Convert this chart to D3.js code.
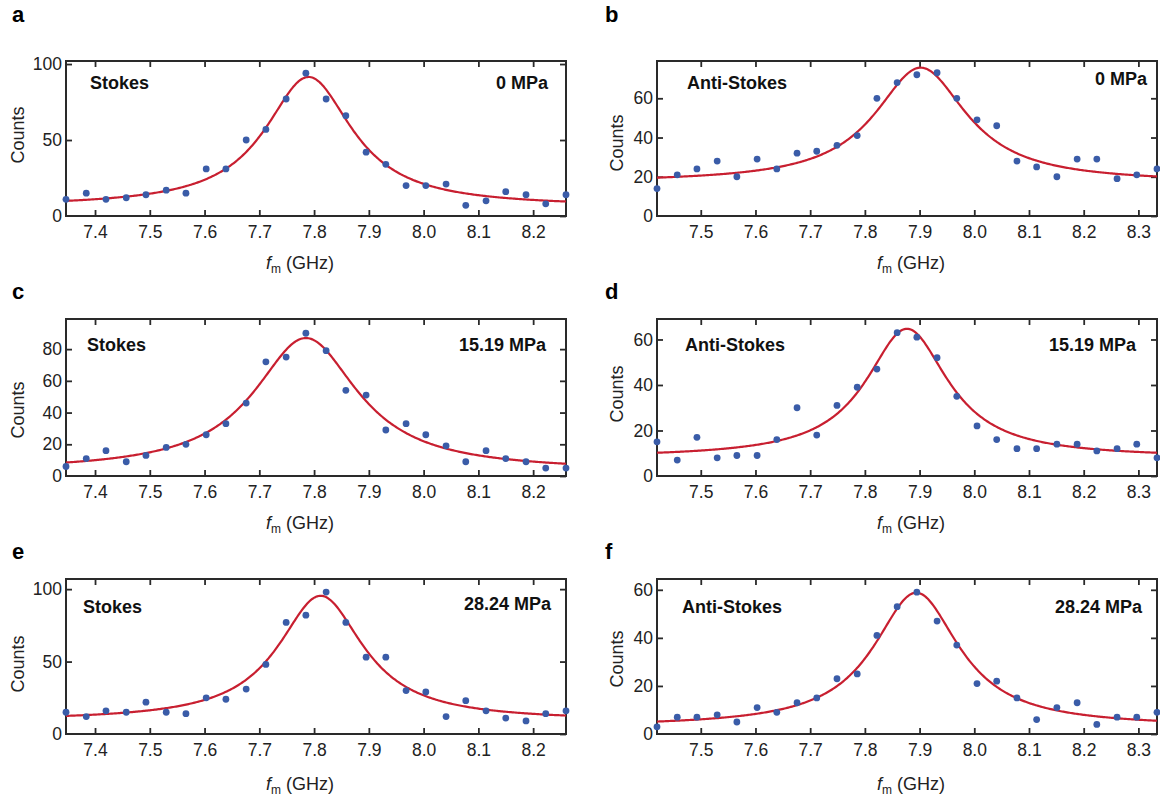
<!DOCTYPE html>
<html>
<head>
<meta charset="utf-8">
<script src="https://cdn.jsdelivr.net/npm/d3@7"></script>
<style>
  body { margin: 0; background: #fff; }
  svg { font-family: "Liberation Sans", Arial, Helvetica, sans-serif; }
</style>
</head>
<body>
<div id="fig"></div>
<script>
// frequency grid of the two columns (GHz)
const freqLeft = [7.347, 7.384, 7.420, 7.457, 7.493, 7.530, 7.566, 7.603, 7.639, 7.676, 7.712, 7.749, 7.785,
  7.822, 7.858, 7.895, 7.931, 7.968, 8.004, 8.041, 8.077, 8.114, 8.150, 8.187, 8.223, 8.260];
const freqRight = [7.420, 7.457, 7.493, 7.530, 7.566, 7.603, 7.639, 7.676, 7.712, 7.749, 7.786, 7.822, 7.859,
  7.895, 7.932, 7.968, 8.005, 8.041, 8.078, 8.114, 8.151, 8.188, 8.224, 8.261, 8.297, 8.334];

// counts per panel
const countsA = [11, 15, 11, 12, 14, 17, 15, 31, 31, 50, 57, 77, 94, 77, 66, 42, 34, 20, 20, 21, 7, 10, 16, 14, 8, 14];
const countsB = [14, 21, 24, 28, 20, 29, 24, 32, 33, 36, 41, 60, 68, 72, 73, 60, 49, 46, 28, 25, 20, 29, 29, 19, 21, 24];
const countsC = [6, 11, 16, 9, 13, 18, 20, 26, 33, 46, 72, 75, 90, 79, 54, 51, 29, 33, 26, 19, 9, 16, 11, 9, 5, 5];
const countsD = [15, 7, 17, 8, 9, 9, 16, 30, 18, 31, 39, 47, 63, 61, 52, 35, 22, 16, 12, 12, 14, 14, 11, 12, 14, 8];
const countsE = [15, 12, 16, 15, 22, 15, 14, 25, 24, 31, 48, 77, 82, 98, 77, 53, 53, 30, 29, 12, 23, 16, 11, 9, 14, 16];
const countsF = [3, 7, 7, 8, 5, 11, 9, 13, 15, 23, 25, 41, 53, 59, 47, 37, 21, 22, 15, 6, 11, 13, 4, 7, 7, 9];

// Lorentzian fits: [centre (GHz), half width (GHz), amplitude, offset]
const fitA = [7.790, 0.0975, 85.5, 6];
const fitB = [7.902, 0.103, 58.6, 17];
const fitC = [7.785, 0.116, 84, 3];
const fitD = [7.877, 0.092, 56.7, 8];
const fitE = [7.812, 0.0953, 86.4, 9];
const fitF = [7.894, 0.0957, 55.8, 3];

const yMax = [102, 79, 99, 69, 107, 64.5];
const yTicksA = [0, 50, 100];
const yTicksB = [0, 20, 40, 60];
const yTicksC = [0, 20, 40, 60, 80];
const yTicksD = [0, 20, 40, 60];
const yTicksE = [0, 50, 100];
const yTicksF = [0, 20, 40, 60];
const xTicksLeft = [7.4, 7.5, 7.6, 7.7, 7.8, 7.9, 8.0, 8.1, 8.2];
const xTicksRight = [7.5, 7.6, 7.7, 7.8, 7.9, 8.0, 8.1, 8.2, 8.3];

const letters = ["a", "b", "c", "d", "e", "f"];
const lineNames = ["Stokes", "Anti-Stokes", "Stokes", "Anti-Stokes", "Stokes", "Anti-Stokes"];
const pressures = ["0 MPa", "0 MPa", "15.19 MPa", "15.19 MPa", "28.24 MPa", "28.24 MPa"];

// layout
const cols = [
  { left: 66, right: 566, letterX: 12, countsX: 24, titleX: 300 },
  { left: 657, right: 1157, letterX: 605, countsX: 623, titleX: 911 }
];
const rows = [
  { top: 61, bottom: 216, letterY: 22, titleY: 269 },
  { top: 319, bottom: 476, letterY: 299, titleY: 529 },
  { top: 579, bottom: 734, letterY: 559, titleY: 790 }
];
const labelPos = [
  { lx: 90, ly: 89, rx: 548, ry: 89, cy: 135 },
  { lx: 687, ly: 89, rx: 1147, ry: 85, cy: 143 },
  { lx: 87, ly: 351, rx: 546, ry: 351, cy: 410 },
  { lx: 685, ly: 351, rx: 1136, ry: 351, cy: 394 },
  { lx: 83, ly: 613, rx: 551, ry: 610, cy: 664 },
  { lx: 682, ly: 613, rx: 1142, ry: 613, cy: 659 }
];

const counts = [countsA, countsB, countsC, countsD, countsE, countsF];
const fits = [fitA, fitB, fitC, fitD, fitE, fitF];
const yTicks = [yTicksA, yTicksB, yTicksC, yTicksD, yTicksE, yTicksF];

const blue = "#3a5ca8", red = "#c81f30", ink = "#2a2a2a";

const svg = d3.select("#fig").append("svg")
  .attr("width", 1160)
  .attr("height", 798);

function lorentz(p, f) {
  const d = (f - p[0]) / p[1];
  return p[3] + p[2] / (1 + d * d);
}

counts.forEach((vals, i) => {
  const col = cols[i % 2], row = rows[Math.floor(i / 2)], lp = labelPos[i];
  const freqs = i % 2 ? freqRight : freqLeft;
  const xTicks = i % 2 ? xTicksRight : xTicksLeft;

  const x = d3.scaleLinear()
    .domain([freqs[0], freqs[freqs.length - 1]])
    .range([col.left, col.right]);
  const y = d3.scaleLinear()
    .domain([0, yMax[i]])
    .range([row.bottom, row.top]);

  const g = svg.append("g");

  // axes, ticks pointing inward
  const bottom = g.append("g")
    .attr("transform", `translate(0,${row.bottom})`)
    .call(d3.axisBottom(x).tickValues(xTicks).tickSize(-6).tickPadding(10).tickFormat(d3.format(".1f")));
  const top = g.append("g")
    .attr("transform", `translate(0,${row.top})`)
    .call(d3.axisTop(x).tickValues(xTicks).tickSize(-6).tickFormat(""));
  const left = g.append("g")
    .attr("transform", `translate(${col.left},0)`)
    .call(d3.axisLeft(y).tickValues(yTicks[i]).tickSize(-6).tickPadding(4));
  const right = g.append("g")
    .attr("transform", `translate(${col.right},0)`)
    .call(d3.axisRight(y).tickValues(yTicks[i]).tickSize(-6).tickFormat(""));

  [bottom, top, left, right].forEach(a => {
    a.select(".domain").remove();
    a.selectAll(".tick line").attr("stroke", ink).attr("stroke-width", 1.8);
    a.selectAll(".tick text").attr("fill", "#222").style("font-size", "17.5px");
  });
  left.selectAll(".tick").filter(d => d === 0 || d === yMax[i]).select("line").remove();

  g.append("rect")
    .attr("x", col.left)
    .attr("y", row.top)
    .attr("width", col.right - col.left)
    .attr("height", row.bottom - row.top)
    .attr("fill", "none")
    .attr("stroke", ink)
    .attr("stroke-width", 2);

  // fit curve
  const fs = d3.range(0, 401).map(k => x.domain()[0] + k * (x.domain()[1] - x.domain()[0]) / 400);
  g.append("path")
    .datum(fs)
    .attr("fill", "none")
    .attr("stroke", red)
    .attr("stroke-width", 2.2)
    .attr("d", d3.line().x(f => x(f)).y(f => y(lorentz(fits[i], f))));

  // measured points
  g.selectAll("circle")
    .data(vals)
    .enter().append("circle")
      .attr("cx", (d, k) => x(freqs[k]))
      .attr("cy", d => y(d))
      .attr("r", 3.4)
      .attr("fill", blue);

  // labels
  g.append("text")
    .attr("x", lp.lx).attr("y", lp.ly)
    .attr("font-weight", "bold").attr("font-size", 18).attr("fill", "#111")
    .text(lineNames[i]);
  g.append("text")
    .attr("x", lp.rx).attr("y", lp.ry)
    .attr("text-anchor", "end")
    .attr("font-weight", "bold").attr("font-size", 18).attr("fill", "#111")
    .text(pressures[i]);

  g.append("text")
    .attr("transform", `translate(${col.countsX},${lp.cy}) rotate(-90)`)
    .attr("text-anchor", "middle")
    .attr("font-size", 18).attr("fill", "#222")
    .text("Counts");

  const t = g.append("text")
    .attr("x", col.titleX).attr("y", row.titleY)
    .attr("text-anchor", "middle")
    .attr("font-size", 18).attr("fill", "#222");
  t.append("tspan").attr("font-style", "italic").text("f");
  t.append("tspan").attr("font-size", 12).attr("dy", 4).text("m");
  t.append("tspan").attr("dy", -4).text(" (GHz)");

  g.append("text")
    .attr("x", col.letterX).attr("y", row.letterY)
    .attr("font-weight", "bold").attr("font-size", 22).attr("fill", "#000")
    .text(letters[i]);
});
</script>
</body>
</html>
